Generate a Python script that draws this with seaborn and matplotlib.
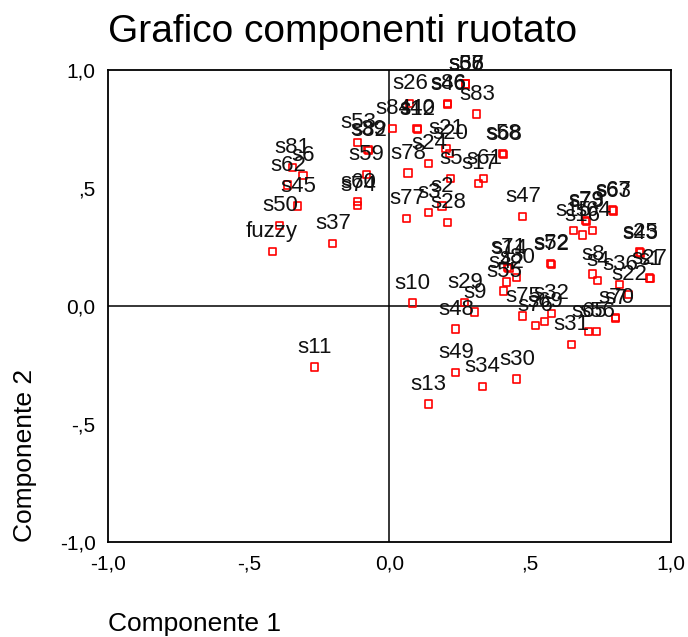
import matplotlib
matplotlib.use("Agg")
import matplotlib.pyplot as plt
import seaborn as sns
import pandas as pd

# component loadings
labels = ["fuzzy", "s50", "s45", "s62", "s6", "s81", "s37", "s53", "s82", "s39",
          "s59", "s60", "s74", "s84", "s26", "s40", "s12", "s86", "s46", "s66",
          "s57", "s38", "s83", "s21", "s20", "s24", "s78", "s5", "s61", "s17",
          "s58", "s68", "s77", "s3", "s2", "s28", "s47", "s10", "s29", "s9",
          "s48", "s71", "s14", "s80", "s42", "s55", "s52", "s72", "s75", "s32",
          "s76", "s69", "s31", "s65", "s56", "s70", "s7", "s22", "s36", "s8",
          "s4", "s27", "s1", "s25", "s43", "s67", "s63", "s79", "s73", "s15",
          "s16", "s64", "s49", "s34", "s30", "s13", "s11"]
comp1 = [-0.417, -0.389, -0.325, -0.361, -0.307, -0.346, -0.201, -0.112, -0.073, -0.076,
         -0.083, -0.112, -0.112, 0.012, 0.073, 0.098, 0.101, 0.208, 0.208, 0.272,
         0.272, 0.272, 0.311, 0.201, 0.215, 0.140, 0.066, 0.218, 0.336, 0.318,
         0.403, 0.407, 0.062, 0.140, 0.187, 0.208, 0.474, 0.083, 0.268, 0.304,
         0.236, 0.421, 0.425, 0.453, 0.417, 0.407, 0.574, 0.577, 0.474, 0.577,
         0.520, 0.552, 0.648, 0.709, 0.737, 0.805, 0.805, 0.851, 0.819, 0.723,
         0.741, 0.925, 0.928, 0.890, 0.893, 0.794, 0.797, 0.698, 0.701, 0.655,
         0.687, 0.723, 0.236, 0.330, 0.453, 0.140, -0.265]
comp2 = [0.233, 0.343, 0.424, 0.513, 0.555, 0.589, 0.267, 0.695, 0.661, 0.665,
         0.559, 0.442, 0.428, 0.754, 0.860, 0.754, 0.750, 0.860, 0.856, 0.941,
         0.941, 0.941, 0.814, 0.669, 0.648, 0.606, 0.564, 0.542, 0.542, 0.521,
         0.648, 0.644, 0.373, 0.398, 0.424, 0.356, 0.381, 0.013, 0.017, -0.025,
         -0.097, 0.165, 0.161, 0.123, 0.102, 0.064, 0.182, 0.178, -0.042, -0.030,
         -0.081, -0.064, -0.161, -0.106, -0.106, -0.047, -0.051, 0.051, 0.093, 0.136,
         0.110, 0.119, 0.115, 0.229, 0.225, 0.407, 0.403, 0.364, 0.360, 0.322,
         0.301, 0.322, -0.280, -0.339, -0.309, -0.415, -0.258]

ticks = [-1.0, -0.5, 0.0, 0.5, 1.0]
tick_labels = ["-1,0", "-,5", "0,0", ",5", "1,0"]

df = pd.DataFrame({"label": labels, "c1": comp1, "c2": comp2})

sns.set_style("white")
plt.rcParams["font.family"] = ["Liberation Sans", "DejaVu Sans"]
plt.rcParams["text.color"] = "black"
plt.rcParams["axes.labelcolor"] = "black"
plt.rcParams["xtick.color"] = "black"
plt.rcParams["ytick.color"] = "black"

fig = plt.figure(figsize=(6.88, 6.37), dpi=100)
ax = fig.add_axes([0.157, 0.149, 0.818, 0.741])

ax.axhline(0, color="black", lw=1.1, zorder=1)
ax.axvline(0, color="black", lw=1.1, zorder=1)

sns.scatterplot(data=df, x="c1", y="c2", marker="s", s=26, facecolor="none",
                edgecolor="red", linewidth=1.2, ax=ax, zorder=3)

for _, row in df.iterrows():
    ax.annotate(row["label"], (row["c1"], row["c2"]), xytext=(0, 14),
                textcoords="offset points", ha="center", va="center",
                fontsize=16, color="#111111", zorder=4)

ax.set_xlim(-1, 1)
ax.set_ylim(-1, 1)
ax.set_xticks(ticks)
ax.set_xticklabels(tick_labels, fontsize=15)
ax.set_yticks(ticks)
ax.set_yticklabels(tick_labels, fontsize=15)
ax.tick_params(direction="out", length=3, width=3, color="black", pad=6)
for sp in ax.spines.values():
    sp.set_color("black")
    sp.set_linewidth(1.3)

ax.set_xlabel("Componente 1", fontsize=19, loc="left", labelpad=28)
ax.set_ylabel("Componente 2", fontsize=19, loc="bottom", labelpad=16)
ax.set_title("Grafico componenti ruotato", fontsize=28, loc="left", pad=20)

fig.savefig("out.png", dpi=100)
